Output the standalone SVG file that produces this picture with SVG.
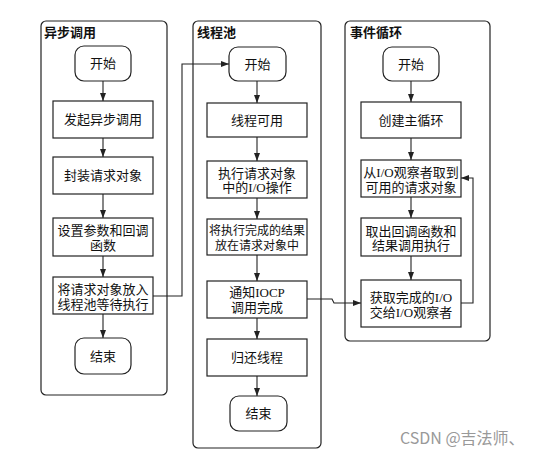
<svg xmlns="http://www.w3.org/2000/svg" width="540" height="456" viewBox="0 0 540 456">
<defs>
<style>
.lane{fill:none;stroke:#222;stroke-width:1.2}
.box{fill:#fff;stroke:#222;stroke-width:1.2}
.t{font-family:"Liberation Serif","Noto Sans CJK SC",serif;font-size:13px;fill:#111;text-anchor:middle;dominant-baseline:central}
.s{font-size:12px}
.title{font-family:"Liberation Serif","Noto Sans CJK SC",serif;font-size:13px;font-weight:bold;fill:#111}
.c{fill:none;stroke:#222;stroke-width:1.1;marker-end:url(#ah)}
.wm{font-family:"Noto Sans CJK SC","Liberation Sans",sans-serif;font-size:16px;fill:#999}
</style>
<marker id="ah" viewBox="0 0 8 6" refX="8" refY="3" markerWidth="8" markerHeight="6" markerUnits="userSpaceOnUse" orient="auto">
<path d="M0 0L8 3L0 6z" fill="#222"/>
</marker>
</defs>
<rect width="540" height="456" fill="#fff"/>

<g id="lane1">
<rect class="lane" x="41" y="21" width="126" height="374" rx="5"/>
<text class="title" x="44" y="37">异步调用</text>
</g>
<g id="lane2">
<rect class="lane" x="193" y="21" width="128" height="427" rx="5"/>
<text class="title" x="197" y="37">线程池</text>
</g>
<g id="lane3">
<rect class="lane" x="345" y="21" width="145" height="320" rx="5"/>
<text class="title" x="350" y="37">事件循环</text>
</g>

<g id="connectors">
<path class="c" d="M103 81V101"/>
<path class="c" d="M103 138V157"/>
<path class="c" d="M103 194V218"/>
<path class="c" d="M103 256V277"/>
<path class="c" d="M103 314V338"/>
<path class="c" d="M153 296H182V64H229"/>
<path class="c" d="M257 81V103"/>
<path class="c" d="M257 137V161"/>
<path class="c" d="M257 198V219"/>
<path class="c" d="M257 255V281"/>
<path class="c" d="M257 318V339"/>
<path class="c" d="M257 376V396"/>
<path class="c" d="M307 299H332L334 303H361"/>
<path class="c" d="M411 81V102"/>
<path class="c" d="M411 138V160"/>
<path class="c" d="M411 197V218"/>
<path class="c" d="M411 256V280"/>
<path class="c" d="M461 303H473V178H461"/>
</g>

<g id="a_start"><rect class="box" x="75" y="46" width="56" height="35" rx="9"/><text class="t" x="103" y="63.5">开始</text></g>
<g id="a_1"><rect class="box" x="53" y="101" width="100" height="37"/><text class="t" x="103" y="119.5">发起异步调用</text></g>
<g id="a_2"><rect class="box" x="53" y="157" width="100" height="37"/><text class="t" x="103" y="175.5">封装请求对象</text></g>
<g id="a_3"><rect class="box" x="53" y="218" width="100" height="38"/><text class="t" x="103" y="230">设置参数和回调</text><text class="t" x="103" y="245">函数</text></g>
<g id="a_4"><rect class="box" x="53" y="277" width="100" height="37"/><text class="t" x="103" y="289">将请求对象放入</text><text class="t" x="103" y="304">线程池等待执行</text></g>
<g id="a_end"><rect class="box" x="75" y="338" width="56" height="36" rx="9"/><text class="t" x="103" y="356">结束</text></g>

<g id="b_start"><rect class="box" x="229" y="47" width="57" height="34" rx="9"/><text class="t" x="257.5" y="64">开始</text></g>
<g id="b_1"><rect class="box" x="207" y="103" width="100" height="34"/><text class="t" x="257" y="120">线程可用</text></g>
<g id="b_2"><rect class="box" x="207" y="161" width="100" height="37"/><text class="t" x="257" y="173">执行请求对象</text><text class="t" x="257" y="187">中的I/O操作</text></g>
<g id="b_3"><rect class="box" x="207" y="219" width="100" height="36"/><text class="t s" x="257" y="231">将执行完成的结果</text><text class="t s" x="257" y="246">放在请求对象中</text></g>
<g id="b_4"><rect class="box" x="207" y="281" width="100" height="37"/><text class="t" x="257" y="292">通知IOCP</text><text class="t" x="257" y="307">调用完成</text></g>
<g id="b_5"><rect class="box" x="207" y="339" width="100" height="37"/><text class="t" x="257" y="357.5">归还线程</text></g>
<g id="b_end"><rect class="box" x="230" y="396" width="57" height="35" rx="9"/><text class="t" x="258.5" y="413.5">结束</text></g>

<g id="c_start"><rect class="box" x="383" y="47" width="56" height="34" rx="9"/><text class="t" x="411" y="64">开始</text></g>
<g id="c_1"><rect class="box" x="361" y="102" width="100" height="36"/><text class="t" x="411" y="120">创建主循环</text></g>
<g id="c_2"><rect class="box" x="361" y="160" width="100" height="37"/><text class="t" x="411" y="172">从I/O观察者取到</text><text class="t" x="411" y="187">可用的请求对象</text></g>
<g id="c_3"><rect class="box" x="361" y="218" width="100" height="38"/><text class="t" x="411" y="231">取出回调函数和</text><text class="t" x="411" y="245">结果调用执行</text></g>
<g id="c_4"><rect class="box" x="361" y="280" width="100" height="47"/><text class="t" x="411" y="297">获取完成的I/O</text><text class="t" x="411" y="312">交给I/O观察者</text></g>

<text class="wm" x="400" y="444">CSDN @吉法师、</text>
</svg>
